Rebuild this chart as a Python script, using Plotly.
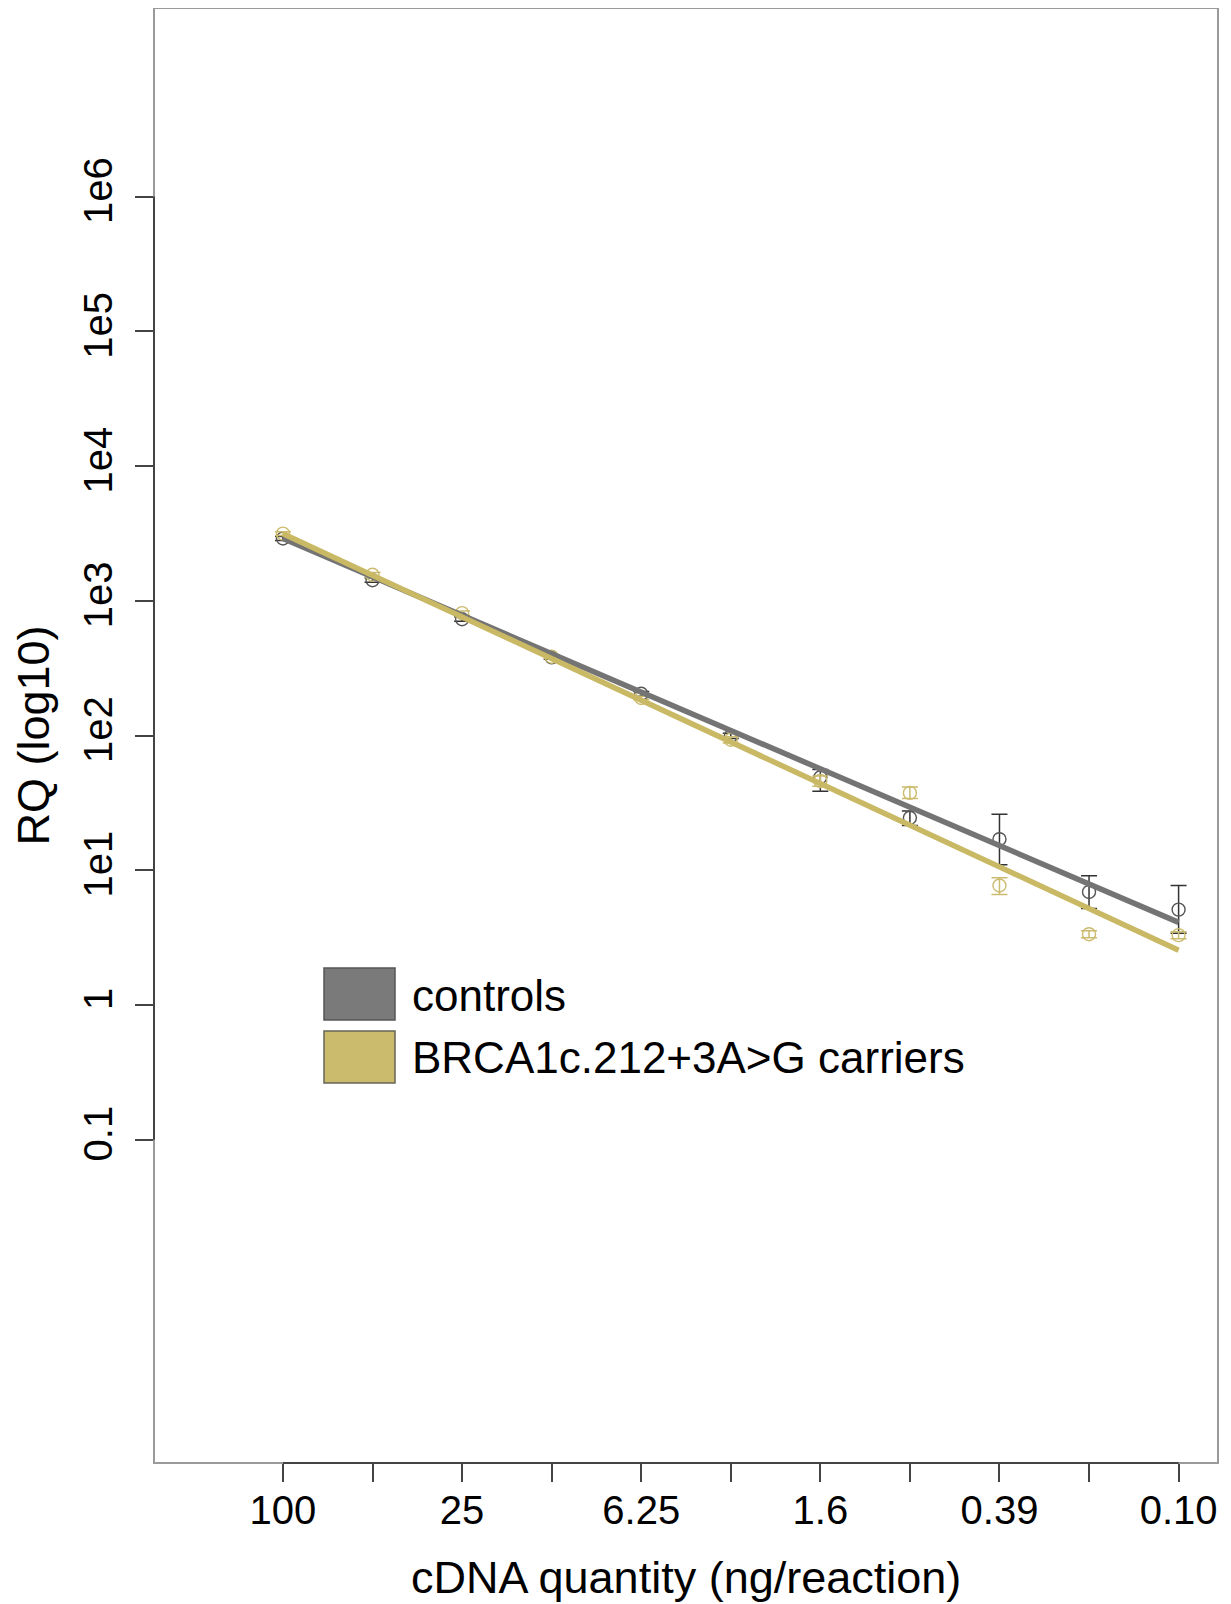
import numpy as np
import plotly.graph_objects as go

# ---------------- data ----------------
conc_labels = ["100", "50", "25", "12.5", "6.25", "3.13", "1.6", "0.78", "0.39", "0.20", "0.10"]
tick_labels = ["100", "", "25", "", "6.25", "", "1.6", "", "0.39", "", "0.10"]

controls_rq = [2900, 1420, 730, 380, 204, 99, 49, 24.5, 17, 6.9, 5.1]
controls_hi = [3000, 1480, 760, 395, 212, 104, 56, 27.5, 26, 9.1, 7.7]
controls_lo = [2800, 1370, 705, 368, 196, 95, 38.5, 21.5, 11, 5.2, 3.4]

carriers_rq = [3150, 1560, 810, 384, 190, 93, 46, 37.5, 7.7, 3.35, 3.3]
carriers_hi = [3250, 1620, 840, 395, 196, 98, 50, 41.5, 8.8, 3.55, 3.5]
carriers_lo = [3050, 1500, 780, 373, 184, 88, 42, 34, 6.6, 3.15, 3.1]

# regression lines (value at first and last dilution)
fit_controls = [2900, 4.1]
fit_carriers = [3150, 2.55]

y_tick_vals = [0.1, 1, 10, 100, 1e3, 1e4, 1e5, 1e6]
y_tick_text = ["0.1", "1", "1e1", "1e2", "1e3", "1e4", "1e5", "1e6"]

series_names = ["controls", "BRCA1c.212+3A>G carriers"]

# ---------------- style ----------------
OFF = 8  # page body margin
W, H = 1231 - OFF, 1604 - OFF
ML, MR, MT, MB = 146, 13, 0, 141
PW, PH = W - ML - MR, H - MT - MB
YR = [-3.4, 7.4]
XR = [-0.44, 11.44]
FONT = "Liberation Sans, Arial, sans-serif"

GRAY_LINE = "#747474"
GRAY_PT = "#555555"
GRAY_ERR = "#333333"
GOLD_LINE = "#c9b864"
GOLD_PT = "#cbbb6e"
GOLD_BOX = "#cbbb6d"
GRAY_BOX = "#7a7a7a"

def pxx(px):
    return (px - OFF - ML) / PW

def pxy(py):
    return (MT + PH - (py - OFF)) / PH

def logpaper(v):
    return (np.log10(v) - YR[0]) / (YR[1] - YR[0])

pos = list(range(1, len(conc_labels) + 1))

fig = go.Figure()

def add_points(vals, hi, lo, ptcol, errcol, name):
    fig.add_trace(go.Scatter(
        x=pos, y=vals, mode="markers", name=name, showlegend=False,
        marker=dict(symbol="circle-open", size=13, color=ptcol, line=dict(width=1.4, color=ptcol)),
        error_y=dict(type="data", symmetric=False,
                     array=[h - v for h, v in zip(hi, vals)],
                     arrayminus=[v - l for v, l in zip(vals, lo)],
                     color=errcol, thickness=1.5, width=8),
        hovertext=conc_labels,
    ))

add_points(controls_rq, controls_hi, controls_lo, GRAY_PT, GRAY_ERR, series_names[0])
add_points(carriers_rq, carriers_hi, carriers_lo, GOLD_PT, GOLD_PT, series_names[1])

fig.add_trace(go.Scatter(x=[pos[0], pos[-1]], y=fit_controls, mode="lines", showlegend=False,
                         line=dict(color=GRAY_LINE, width=5.5)))
fig.add_trace(go.Scatter(x=[pos[0], pos[-1]], y=fit_carriers, mode="lines", showlegend=False,
                         line=dict(color=GOLD_LINE, width=5.5)))

shapes = [
    # plot box
    dict(type="rect", xref="paper", yref="paper", x0=0, x1=1, y0=0, y1=1,
         line=dict(color="#9a9a9a", width=2)),
    # x axis line (between first and last tick)
    dict(type="line", xref="x", yref="paper", x0=pos[0], x1=pos[-1], y0=0, y1=0,
         line=dict(color="#444444", width=2)),
    # y axis line (between first and last tick)
    dict(type="line", xref="paper", yref="paper", x0=0, x1=0,
         y0=logpaper(y_tick_vals[0]), y1=logpaper(y_tick_vals[-1]),
         line=dict(color="#444444", width=2)),
    # legend keys
    dict(type="rect", xref="paper", yref="paper", x0=pxx(324), x1=pxx(395), y0=pxy(1020), y1=pxy(968),
         fillcolor=GRAY_BOX, line=dict(color="#555555", width=1.5)),
    dict(type="rect", xref="paper", yref="paper", x0=pxx(324), x1=pxx(395), y0=pxy(1083), y1=pxy(1031),
         fillcolor=GOLD_BOX, line=dict(color="#666655", width=1.5)),
]

annotations = [
    dict(text=series_names[0], xref="paper", yref="paper", x=pxx(410), y=pxy(995),
         xanchor="left", yanchor="middle", showarrow=False, font=dict(size=44, color="black", family=FONT)),
    dict(text=series_names[1], xref="paper", yref="paper", x=pxx(410), y=pxy(1057),
         xanchor="left", yanchor="middle", showarrow=False, font=dict(size=44, color="black", family=FONT)),
    dict(text="cDNA quantity (ng/reaction)", xref="paper", yref="paper", x=0.5, y=pxy(1577),
         xanchor="center", yanchor="middle", showarrow=False, font=dict(size=45, color="black", family=FONT)),
    dict(text="RQ (log10)", xref="paper", yref="paper", x=pxx(33), y=0.5, textangle=-90,
         xanchor="center", yanchor="middle", showarrow=False, font=dict(size=45, color="black", family=FONT)),
]

fig.update_layout(
    width=W, height=H,
    margin=dict(l=ML, r=MR, t=MT, b=MB),
    paper_bgcolor="white", plot_bgcolor="white",
    showlegend=False,
    font=dict(family=FONT, color="black"),
    shapes=shapes, annotations=annotations,
    xaxis=dict(range=XR, showgrid=False, zeroline=False, showline=False,
               tickmode="array", tickvals=pos, ticktext=tick_labels,
               ticks="outside", ticklen=18, tickwidth=1.5, tickcolor="#444444",
               ticklabelstandoff=-6,
               tickfont=dict(size=40, color="black", family=FONT)),
    yaxis=dict(type="log", range=YR, showgrid=False, zeroline=False, showline=False,
               tickmode="array", tickvals=y_tick_vals, ticktext=y_tick_text,
               ticks="outside", ticklen=18, tickwidth=1.5, tickcolor="#444444", tickangle=-90,
               ticklabelstandoff=7,
               tickfont=dict(size=40, color="black", family=FONT)),
)

fig.write_html("out.html")
